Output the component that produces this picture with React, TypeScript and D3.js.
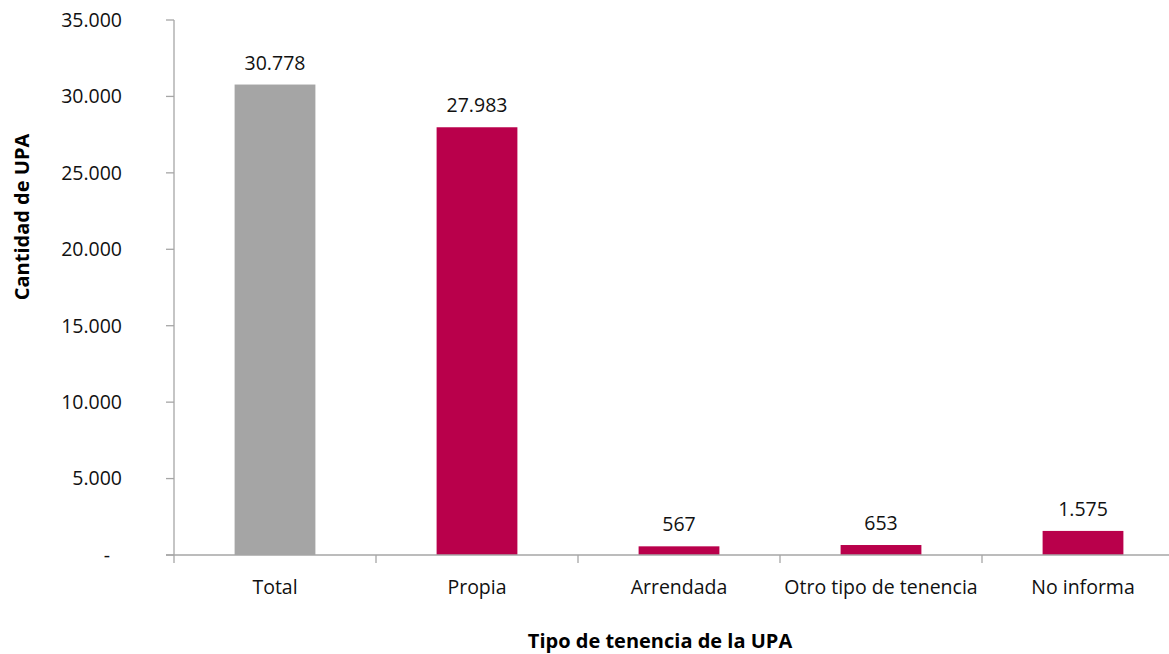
import React from "react";
import * as d3 from "d3";

const categories = ["Total", "Propia", "Arrendada", "Otro tipo de tenencia", "No informa"];
const values = [30778, 27983, 567, 653, 1575];
const barColors = ["#A5A5A5", "#B9004B", "#B9004B", "#B9004B", "#B9004B"];
const yTicks = [0, 5000, 10000, 15000, 20000, 25000, 30000, 35000];
const yTitle = "Cantidad de UPA";
const xTitle = "Tipo de tenencia de la UPA";

const W = 1169;
const H = 654;
const FONT = "'Open Sans', 'Noto Sans', sans-serif";

const locale = d3.formatLocale({ decimal: ",", thousands: ".", grouping: [3], currency: ["$", ""] });
const fmt = locale.format(",d");

export default function App() {
  const left = 174;
  const top = 20;
  const bottom = 555;
  const step = 202;
  const x = d3
    .scaleBand<string>()
    .domain(categories)
    .range([left, left + step * categories.length])
    .paddingInner(0.6)
    .paddingOuter(0.3);
  const y = d3.scaleLinear().domain([0, 35000]).range([bottom, top]);
  const axisColor = "#A6A6A6";
  const boundaries = d3.range(categories.length + 1).map((i) => left + i * x.step());
  const fs = 19.5;

  return (
    <svg
      width={W}
      height={H}
      style={{ position: "absolute", left: 0, top: 0, background: "#fff" }}
      fontFamily={FONT}
    >
      {/* bars */}
      {categories.map((c, i) => (
        <rect
          key={c}
          x={x(c)}
          y={y(values[i])}
          width={x.bandwidth()}
          height={y(0) - y(values[i])}
          fill={barColors[i]}
        />
      ))}
      {/* value labels */}
      {categories.map((c, i) => (
        <text
          key={"v" + c}
          x={(x(c) as number) + x.bandwidth() / 2}
          y={y(values[i]) - 15}
          textAnchor="middle"
          fontSize={fs}
          fill="#111"
        >
          {fmt(values[i])}
        </text>
      ))}
      {/* y axis */}
      <line x1={left} x2={left} y1={y(35000)} y2={y(0)} stroke={axisColor} strokeWidth={1.3} />
      {yTicks.map((t) => (
        <g key={"yt" + t}>
          <line x1={left - 8} x2={left} y1={y(t)} y2={y(t)} stroke={axisColor} strokeWidth={1.3} />
          <text
            x={t === 0 ? left - 64 : left - 52}
            y={y(t)}
            dy="0.35em"
            textAnchor="end"
            fontSize={fs}
            fill="#111"
          >
            {t === 0 ? "-" : fmt(t)}
          </text>
        </g>
      ))}
      {/* x axis */}
      <line x1={left - 8} x2={left + step * categories.length} y1={y(0)} y2={y(0)} stroke={axisColor} strokeWidth={1.3} />
      {boundaries.map((b, i) => (
        <line key={"xt" + i} x1={b} x2={b} y1={y(0)} y2={y(0) + 8} stroke={axisColor} strokeWidth={1.3} />
      ))}
      {categories.map((c) => (
        <text
          key={"xl" + c}
          x={(x(c) as number) + x.bandwidth() / 2}
          y={y(0) + 39}
          textAnchor="middle"
          fontSize={fs}
          fill="#111"
        >
          {c}
        </text>
      ))}
      {/* titles */}
      <text
        x={660}
        y={648}
        textAnchor="middle"
        fontSize={20}
        fontWeight="bold"
        fill="#000"
      >
        {xTitle}
      </text>
      <text
        transform={`translate(29, 217) rotate(-90)`}
        textAnchor="middle"
        fontSize={20}
        fontWeight="bold"
        fill="#000"
      >
        {yTitle}
      </text>
    </svg>
  );
}
